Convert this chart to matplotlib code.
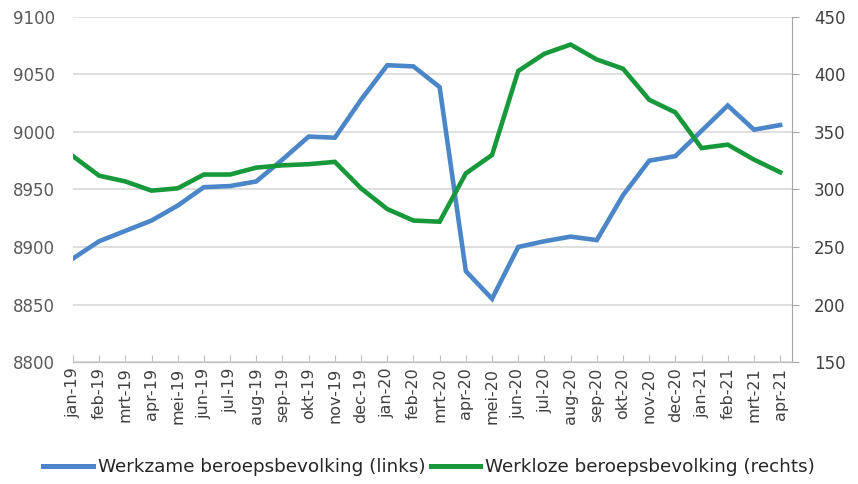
import matplotlib
matplotlib.use('Agg')
import matplotlib.pyplot as plt

# -----------------
# DATA
# -----------------
months = ['jan-19', 'feb-19', 'mrt-19', 'apr-19', 'mei-19', 'jun-19', 'jul-19',
          'aug-19', 'sep-19', 'okt-19', 'nov-19', 'dec-19', 'jan-20', 'feb-20',
          'mrt-20', 'apr-20', 'mei-20', 'jun-20', 'jul-20', 'aug-20', 'sep-20',
          'okt-20', 'nov-20', 'dec-20', 'jan-21', 'feb-21', 'mrt-21', 'apr-21']

# Werkzame beroepsbevolking (x 1000), left axis
werkzaam = [8890, 8905, 8914, 8923, 8936, 8952, 8953, 8957, 8976, 8996, 8995,
            9028, 9058, 9057, 9039, 8879, 8855, 8900, 8905, 8909, 8906, 8945,
            8975, 8979, 9001, 9023, 9002, 9006]

# Werkloze beroepsbevolking (x 1000), right axis
werkloos = [329, 312, 307, 299, 301, 313, 313, 319, 321, 322, 324, 301, 283,
            273, 272, 314, 330, 403, 418, 426, 413, 405, 378, 367, 336, 339,
            326, 315]

left_ticks = [8800, 8850, 8900, 8950, 9000, 9050, 9100]
right_ticks = [150, 200, 250, 300, 350, 400, 450]

BLUE = '#4a86c8'
GREEN = '#17993b'
GRID = '#d4d4d4'
TXT = '#404040'

fig = plt.figure(figsize=(8.58, 4.84), dpi=100)
ax = fig.add_axes([0.085, 0.252, 0.838, 0.713])
ax2 = ax.twinx()

x = list(range(len(months)))
ax.plot(x, werkzaam, color=BLUE, lw=3.3, solid_joinstyle='miter', zorder=3)
ax2.plot(x, werkloos, color=GREEN, lw=3.3, solid_joinstyle='miter', zorder=3)

ax.set_xlim(0, 27.45)
ax.set_ylim(8800, 9100)
ax2.set_ylim(150, 450)
ax.set_yticks(left_ticks)
ax2.set_yticks(right_ticks)

ax.yaxis.grid(True, color=GRID, lw=1.1)
ax.set_axisbelow(True)

ax.set_xticks(x)
ax.set_xticklabels(months, rotation=90, fontsize=11.5, color=TXT)
ax.tick_params(axis='x', direction='in', length=5, color='#bfbfbf', pad=4)
ax.tick_params(axis='y', length=0, labelsize=12, labelcolor='#595959', pad=13)
ax2.tick_params(axis='y', direction='out', length=5, color='#a6a6a6',
                labelsize=12, labelcolor=TXT, pad=11)

for a in (ax, ax2):
    a.spines['top'].set_visible(False)
    a.spines['left'].set_visible(False)
    a.spines['bottom'].set_color('#bfbfbf')
    a.spines['right'].set_visible(False)
ax2.spines['right'].set_visible(True)
ax2.spines['right'].set_color('#a6a6a6')

# the legend sits below the axis labels
h1, = ax.plot([], [], color=BLUE, lw=3.6)
h2, = ax.plot([], [], color=GREEN, lw=3.6)
fig.legend([h1, h2],
           ['Werkzame beroepsbevolking (links)', 'Werkloze beroepsbevolking (rechts)'],
           loc='center', bbox_to_anchor=(0.5, 1 - 467 / 484), ncol=2, frameon=False,
           fontsize=13.2, labelcolor='#262626',
           handlelength=2.7, handletextpad=0.25, columnspacing=0.3, borderpad=0)

fig.savefig('out.png', dpi=100)
